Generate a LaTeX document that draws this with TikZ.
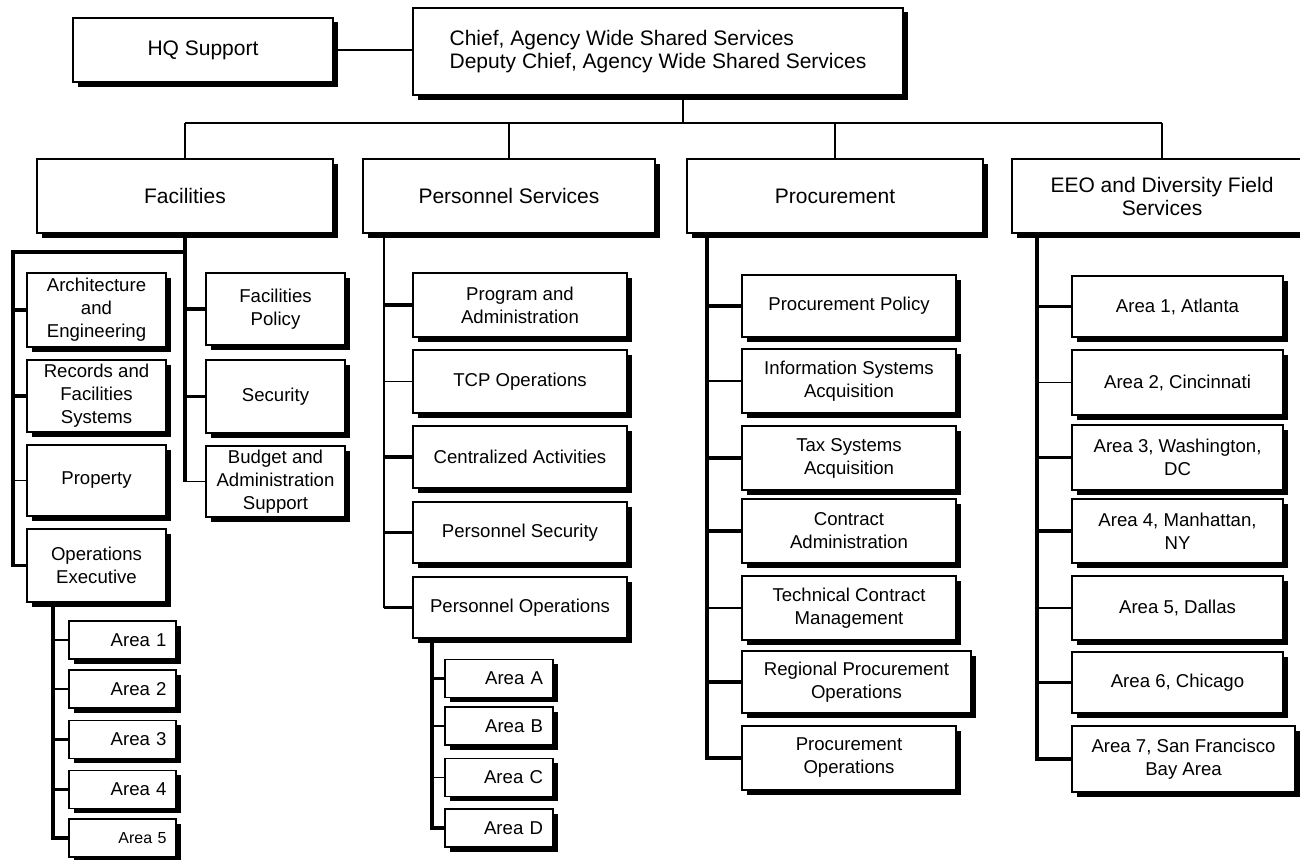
\documentclass[tikz,border=0pt]{standalone}
\usepackage{fontspec}
\setmainfont{Liberation Sans}
\usepackage{tikz}
\usetikzlibrary{shadows}
\newcommand{\headfont}{\fontsize{21}{23}\selectfont}
\newcommand{\unitfont}{\fontsize{18.6}{23}\selectfont}
\newcommand{\smallareafont}{\fontsize{16}{20}\selectfont}
\tikzset{
    orgbox/.style={draw, line width=1.8pt, fill=white, align=center, inner sep=2pt, font=\unitfont,
        drop shadow={shadow xshift=4.5pt, shadow yshift=-4.5pt, fill=black, opacity=1}},
    headbox/.style={orgbox, font=\headfont},
    unitbox/.style={orgbox, minimum width=139pt},
    subbox/.style={orgbox, minimum width=214pt},
    areabox/.style={orgbox, minimum width=107pt, minimum height=38pt, text width=88pt, align=right, inner xsep=9.5pt},
    thinlink/.style={draw, line width=1.2pt},
    thicklink/.style={draw, line width=3.6pt}
}

\begin{document}
\begin{tikzpicture}[x=1pt, y=-1pt]
    \useasboundingbox (0,0) rectangle (1300,859);

    % top level
    \node[headbox, minimum width=260pt, minimum height=64pt] (hq) at (203,50) {HQ Support};
    \node[headbox, minimum width=490pt, minimum height=87pt, align=left] (chief) at (658,51.5) {Chief, Agency Wide Shared Services\\Deputy Chief, Agency Wide Shared Services};
    \node[headbox, minimum width=296pt, minimum height=74pt] (fac) at (185,196) {Facilities};
    \node[headbox, minimum width=292pt, minimum height=74pt] (pers) at (509,196) {Personnel Services};
    \node[headbox, minimum width=296pt, minimum height=74pt] (proc) at (835,196) {Procurement};
    \node[headbox, minimum width=300pt, minimum height=74pt] (eeo) at (1162,196) {EEO and Diversity Field\\Services};

    % facilities
    \node[unitbox, minimum height=74pt] (arch) at (96.5,310) {Architecture\\and\\Engineering};
    \node[unitbox, minimum height=72pt] (records) at (96.5,396) {Records and\\Facilities\\Systems};
    \node[unitbox, minimum height=71pt] (property) at (96.5,480.5) {Property};
    \node[unitbox, minimum height=73pt] (opsexec) at (96.5,565.5) {Operations\\Executive};
    \node[unitbox, minimum height=72pt] (facpol) at (275.5,309) {Facilities\\Policy};
    \node[unitbox, minimum height=73pt] (facsec) at (275.5,396.5) {Security};
    \node[unitbox, minimum height=71pt] (budget) at (275.5,481.5) {Budget and\\Administration\\Support};
    \node[areabox] (oa1) at (122.5,640) {Area 1};
    \node[areabox] (oa2) at (122.5,689) {Area 2};
    \node[areabox] (oa3) at (122.5,739.5) {Area 3};
    \node[areabox] (oa4) at (122.5,789.5) {Area 4};
    \node[areabox, font=\smallareafont] (oa5) at (122.5,838) {Area 5};

    % personnel services
    \node[subbox, minimum height=64pt] (prog) at (520,305) {Program and\\Administration};
    \node[subbox, minimum height=63pt] (tcp) at (520,381.5) {TCP Operations};
    \node[subbox, minimum height=62pt] (central) at (520,457) {Centralized Activities};
    \node[subbox, minimum height=61pt] (persec) at (520,532.5) {Personnel Security};
    \node[subbox, minimum height=61pt] (persops) at (520,607.5) {Personnel Operations};
    \node[areabox, minimum width=108pt] (pa) at (499,678.5) {Area A};
    \node[areabox, minimum width=108pt] (pb) at (499,726) {Area B};
    \node[areabox, minimum width=108pt] (pc) at (499,777.5) {Area C};
    \node[areabox, minimum width=108pt] (pd) at (499,828) {Area D};

    % procurement
    \node[subbox, minimum height=62pt] (procpol) at (849,306) {Procurement Policy};
    \node[subbox, minimum height=64pt] (infosys) at (849,381) {Information Systems\\Acquisition};
    \node[subbox, minimum height=64pt] (taxsys) at (849,458) {Tax Systems\\Acquisition};
    \node[subbox, minimum height=64pt] (contract) at (849,531) {Contract\\Administration};
    \node[subbox, minimum height=64pt] (techcon) at (849,608) {Technical Contract\\Management};
    \node[subbox, minimum width=229pt, minimum height=62pt] (regional) at (856.5,682) {Regional Procurement\\Operations};
    \node[subbox, minimum height=64pt] (procops) at (849,758) {Procurement\\Operations};

    % eeo and diversity
    \node[orgbox, minimum width=211pt, minimum height=61pt] (ea1) at (1177.5,306.5) {Area 1, Atlanta};
    \node[orgbox, minimum width=211pt, minimum height=65pt] (ea2) at (1177.5,382.5) {Area 2, Cincinnati};
    \node[orgbox, minimum width=211pt, minimum height=65pt] (ea3) at (1177.5,457.5) {Area 3, Washington,\\DC};
    \node[orgbox, minimum width=211pt, minimum height=64pt] (ea4) at (1177.5,531) {Area 4, Manhattan,\\NY};
    \node[orgbox, minimum width=211pt, minimum height=64pt] (ea5) at (1177.5,608) {Area 5, Dallas};
    \node[orgbox, minimum width=211pt, minimum height=61pt] (ea6) at (1177.5,682.5) {Area 6, Chicago};
    \node[orgbox, minimum width=223pt, minimum height=66pt] (ea7) at (1183.5,759) {Area 7, San Francisco\\Bay Area};

    % top connectors
    \coordinate (topbus) at (683,123);
    \draw[thinlink] (hq.east) -- (hq.east -| chief.west);
    \draw[thinlink] (topbus |- chief.south) -- (topbus);
    \draw[thinlink] (fac.north |- topbus) -- (eeo.north |- topbus);
    \draw[thinlink] (fac.north |- topbus) -- (fac.north);
    \draw[thinlink] (pers.north |- topbus) -- (pers.north);
    \draw[thinlink] (proc.north |- topbus) -- (proc.north);
    \draw[thinlink] (eeo.north |- topbus) -- (eeo.north);

    % facilities connectors
    \coordinate (facbus) at (185,252);
    \coordinate (facleft) at (13,252);
    \draw[thicklink] (fac.south) -- (facbus);
    \draw[thicklink] (facbus) -- (facleft) -- (facleft |- opsexec.west) -- (opsexec.west);
    \draw[thicklink] (facleft |- arch.west) -- (arch.west);
    \draw[thicklink] (facleft |- records.west) -- (records.west);
    \draw[thinlink] (facleft |- property.west) -- (property.west);
    \draw[thicklink] (facbus) -- (facbus |- budget.west);
    \draw[thinlink] (facbus |- budget.west) -- (budget.west);
    \draw[thicklink] (facbus |- facpol.west) -- (facpol.west);
    \draw[thicklink] (facbus |- facsec.west) -- (facsec.west);
    \coordinate (opsbus) at ([xshift=-43.5pt]opsexec.south);
    \draw[thicklink] (opsbus) -- (opsbus |- oa5.west) -- (oa5.west);
    \draw[thinlink] (opsbus |- oa1.west) -- (oa1.west);
    \draw[thinlink] (opsbus |- oa2.west) -- (oa2.west);
    \draw[thicklink] (opsbus |- oa3.west) -- (oa3.west);
    \draw[thicklink] (opsbus |- oa4.west) -- (oa4.west);

    % personnel connectors
    \coordinate (persbus) at ([xshift=-125pt]pers.south);
    \draw[thinlink] (persbus) -- (persbus |- persops.west);
    \draw[thicklink] (persbus |- prog.west) -- (prog.west);
    \draw[thinlink] (persbus |- tcp.west) -- (tcp.west);
    \draw[thicklink] (persbus |- central.west) -- (central.west);
    \draw[thicklink] (persbus |- persec.west) -- (persec.west);
    \draw[thicklink] (persbus |- persops.west) -- (persops.west);
    \coordinate (areabus) at ([xshift=-88pt]persops.south);
    \draw[thicklink] (areabus) -- (areabus |- pd.west) -- (pd.west);
    \draw[thicklink] (areabus |- pa.west) -- (pa.west);
    \draw[thinlink] (areabus |- pb.west) -- (pb.west);
    \draw[thinlink] (areabus |- pc.west) -- (pc.west);

    % procurement connectors
    \coordinate (procbus) at ([xshift=-128pt]proc.south);
    \draw[thicklink] (procbus) -- (procbus |- procops.west) -- (procops.west);
    \draw[thicklink] (procbus |- procpol.west) -- (procpol.west);
    \draw[thinlink] (procbus |- infosys.west) -- (infosys.west);
    \draw[thicklink] (procbus |- taxsys.west) -- (taxsys.west);
    \draw[thicklink] (procbus |- contract.west) -- (contract.west);
    \draw[thinlink] (procbus |- techcon.west) -- (techcon.west);
    \draw[thicklink] (procbus |- regional.west) -- (regional.west);

    % eeo connectors
    \coordinate (eeobus) at ([xshift=-125pt]eeo.south);
    \draw[thicklink] (eeobus) -- (eeobus |- ea7.west) -- (ea7.west);
    \draw[thicklink] (eeobus |- ea1.west) -- (ea1.west);
    \draw[thinlink] (eeobus |- ea2.west) -- (ea2.west);
    \draw[thicklink] (eeobus |- ea3.west) -- (ea3.west);
    \draw[thicklink] (eeobus |- ea4.west) -- (ea4.west);
    \draw[thinlink] (eeobus |- ea5.west) -- (ea5.west);
    \draw[thicklink] (eeobus |- ea6.west) -- (ea6.west);
\end{tikzpicture}
\end{document}
